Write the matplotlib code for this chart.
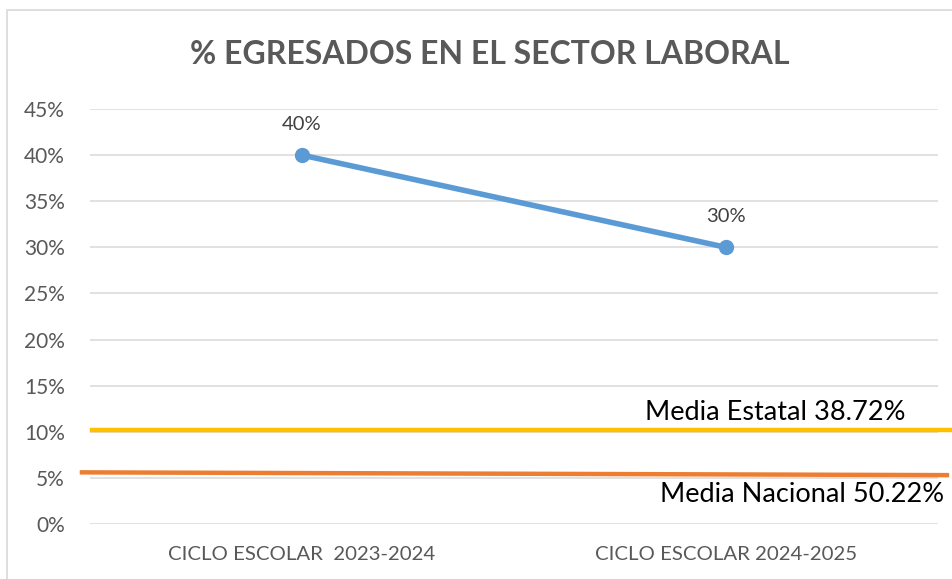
import matplotlib
matplotlib.use("Agg")
import matplotlib.pyplot as plt
from matplotlib.ticker import MultipleLocator, FuncFormatter
from matplotlib.patches import Rectangle

# Data
categories = ["CICLO ESCOLAR  2023-2024", "CICLO ESCOLAR 2024-2025"]
egresados = [40, 30]
data_labels = ["40%", "30%"]
media_estatal_line = [10.2, 10.2]
media_nacional_line = [5.6, 5.3]
estatal_label = "Media Estatal 38.72%"
nacional_label = "Media Nacional 50.22%"
title = "% EGRESADOS EN EL SECTOR LABORAL"

plt.rcParams['font.family'] = ['Lato', 'DejaVu Sans']

W, H = 953, 579
fig = plt.figure(figsize=(W / 100, H / 100), dpi=100)
# plot area in pixels: x 90..938, y 109..524
ax = fig.add_axes([90 / W, 1 - 524 / H, (938 - 90) / W, (524 - 109) / H])

# frame around chart
fig.patches.append(Rectangle((7 / W, -0.05), 1.0, 1 - 10 / H + 0.05,
                             transform=fig.transFigure, fill=False,
                             edgecolor="#D9D9D9", lw=1.2))

x = list(range(len(categories)))
ax.set_xlim(-0.5, len(categories) - 0.5)
ax.set_ylim(0, 45)
ax.yaxis.set_major_locator(MultipleLocator(5))
ax.yaxis.set_major_formatter(FuncFormatter(lambda v, p: f"{int(round(v))}%"))
ax.grid(axis="y", color="#D9D9D9", lw=1.1)
ax.set_axisbelow(True)
for s in ax.spines.values():
    s.set_visible(False)
ax.tick_params(length=0, labelsize=15, colors="#595959")
ax.tick_params(axis="y", pad=18)
ax.tick_params(axis="x", pad=16, labelsize=14.7)
ax.set_xticks(x)
ax.set_xticklabels(categories)

ax.plot(x, egresados, color="#5B9BD5", lw=4, marker="o", ms=10,
        solid_capstyle="round", zorder=3)
for xi, yi, lab in zip(x, egresados, data_labels):
    ax.annotate(lab, (xi, yi), xytext=(0, 16), textcoords="offset points",
                ha="center", va="bottom", fontsize=14.5, color="#404040")

# reference lines extending past the plot area
ax.plot([-0.495, 1.528], media_estatal_line, color="#FFC000", lw=3.2,
        clip_on=False, zorder=2)
ax.plot([-0.519, 1.521], media_nacional_line, color="#ED7D31", lw=3.2,
        clip_on=False, zorder=2)

fig.text(775 / W, 1 - 413 / H, estatal_label, ha="center", va="center",
         fontsize=19.5, color="black")
fig.text(802 / W, 1 - 495 / H, nacional_label, ha="center", va="center",
         fontsize=19.5, color="black")

fig.text(490 / W, 1 - 55 / H, title, ha="center", va="center",
         fontsize=23, fontweight="bold", color="#595959")

fig.savefig("out.png", dpi=100)
